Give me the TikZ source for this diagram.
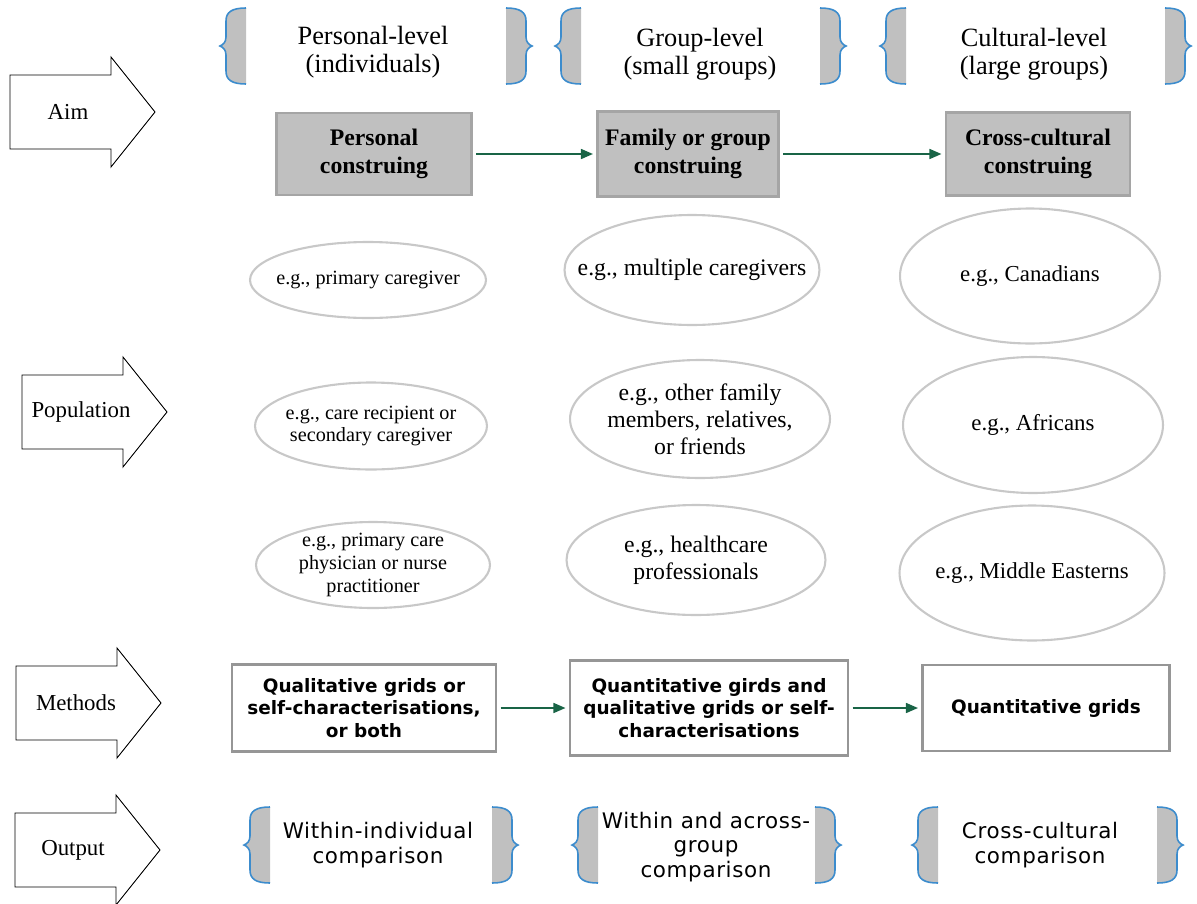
\documentclass[tikz,border=0pt]{standalone}
\usepackage{fontspec}
\setmainfont{Liberation Serif}
\setsansfont{DejaVu Sans}
\newfontfamily\outfont[LetterSpace=3]{DejaVu Sans}
\usetikzlibrary{shapes.geometric,arrows.meta}
\definecolor{boxgray}{RGB}{192,192,192}
\definecolor{boxedge}{RGB}{165,165,165}
\definecolor{ellgray}{RGB}{200,200,200}
\definecolor{methedge}{RGB}{150,150,150}
\definecolor{braceblue}{RGB}{60,140,205}
\definecolor{flowgreen}{RGB}{25,100,70}

\begin{document}
\begin{tikzpicture}[x=0.02cm,y=-0.02cm,
  lbrace/.pic={
    \fill[boxgray] (0,-38) .. controls (-14,-38) and (-20,-34) .. (-20,-25) -- (-20,-9) .. controls (-20,-4) and (-23,-1) .. (-26,0) .. controls (-23,1) and (-20,4) .. (-20,9) -- (-20,25) .. controls (-20,34) and (-14,38) .. (0,38) -- cycle;
    \draw[braceblue,line width=0.9pt] (0,-38) .. controls (-14,-38) and (-20,-34) .. (-20,-25) -- (-20,-9) .. controls (-20,-4) and (-23,-1) .. (-26,0) .. controls (-23,1) and (-20,4) .. (-20,9) -- (-20,25) .. controls (-20,34) and (-14,38) .. (0,38);
  },
  sidearrow/.pic={
    \draw[line width=0.5pt,fill=white] (0,-37) -- (101,-37) -- (101,-55) -- (145,0) -- (101,55) -- (101,37) -- (0,37) -- cycle;
  },
  sidelabel/.style={font=\fontsize{13}{15}\selectfont},
  hdr/.style={align=center,font=\fontsize{15}{16}\selectfont},
  aimbox/.style={draw=boxedge,fill=boxgray,line width=1.2pt,align=center,inner sep=0pt,font=\fontsize{13.5}{16}\selectfont\bfseries},
  egell/.style={ellipse,draw=ellgray,line width=1.2pt,inner sep=-60pt,align=center},
  egp/.style={egell,font=\fontsize{11.5}{13}\selectfont},
  egg/.style={egell,font=\fontsize{13.5}{15.3}\selectfont},
  egc/.style={egell,font=\fontsize{13}{15}\selectfont},
  methbox/.style={draw=methedge,line width=1.2pt,align=center,inner sep=0pt,font=\fontsize{10.5}{13}\selectfont\sffamily\bfseries},
  outtxt/.style={align=center,font=\fontsize{12.2}{13.8}\selectfont\outfont},
  flowarr/.style={flowgreen,line width=0.9pt,-{Triangle[length=2.4mm,width=2mm]},shorten <=2pt,shorten >=2pt}]
\useasboundingbox (0,0) rectangle (1197,903);

\pic at (10,112) {sidearrow};
\pic at (22,412) {sidearrow};
\pic at (16,703) {sidearrow};
\pic at (15,850) {sidearrow};
\node[sidelabel] (aim) at (68,112) {Aim};
\node[sidelabel] (population) at (81,412) {Population};
\node[sidelabel] (methods) at (76,703) {Methods};
\node[sidelabel] (output) at (73,850) {Output};

\pic at (246,46) {lbrace};
\pic[xscale=-1] at (506,46) {lbrace};
\pic at (581,46) {lbrace};
\pic[xscale=-1] at (820,46) {lbrace};
\pic at (906,46) {lbrace};
\pic[xscale=-1] at (1165,46) {lbrace};
\node[hdr] (lvlpersonal) at (373,52) {Personal-level\\(individuals)};
\node[hdr] (lvlgroup) at (700,54) {Group-level\\(small groups)};
\node[hdr] (lvlcultural) at (1034,54) {Cultural-level\\(large groups)};

\node[aimbox,minimum width=3.9cm,minimum height=1.64cm] (aimpersonal) at (374,154) {Personal\\construing};
\node[aimbox,minimum width=3.62cm,minimum height=1.7cm] (aimgroup) at (688,154) {Family or group\\construing};
\node[aimbox,minimum width=3.68cm,minimum height=1.66cm] (aimcultural) at (1038,154) {Cross-cultural\\construing};
\draw[flowarr] (aimpersonal) -- (aimgroup);
\draw[flowarr] (aimgroup) -- (aimcultural);

\node[egp,minimum width=4.72cm,minimum height=1.52cm] (popP1) at (368,280) {e.g., primary caregiver};
\node[egg,minimum width=5.1cm,minimum height=2.2cm] (popG1) at (692,270) {e.g., multiple caregivers};
\node[egc,minimum width=5.2cm,minimum height=2.7cm] (popC1) at (1030,276) {e.g., Canadians};
\node[egp,minimum width=4.64cm,minimum height=1.74cm] (popP2) at (371,426) {e.g., care recipient or\\secondary caregiver};
\node[egg,minimum width=5.2cm,minimum height=2.36cm] (popG2) at (700,419) {e.g., other family\\members, relatives,\\or friends};
\node[egc,minimum width=5.2cm,minimum height=2.72cm] (popC2) at (1033,425) {e.g., Africans};
\node[egp,minimum width=4.68cm,minimum height=1.72cm] (popP3) at (373,565) {e.g., primary care\\physician or nurse\\practitioner};
\node[egg,minimum width=5.18cm,minimum height=2.2cm] (popG3) at (696,560) {e.g., healthcare\\professionals};
\node[egc,minimum width=5.3cm,minimum height=2.7cm] (popC3) at (1032,573) {e.g., Middle Easterns};

\node[methbox,minimum width=5.28cm,minimum height=1.74cm] (methpersonal) at (364,708) {Qualitative grids or\\self-characterisations,\\or both};
\node[methbox,minimum width=5.56cm,minimum height=1.9cm] (methgroup) at (709,708) {Quantitative girds and\\qualitative grids or self-\\characterisations};
\node[methbox,minimum width=4.94cm,minimum height=1.72cm] (methcultural) at (1046,708) {Quantitative grids};
\draw[flowarr] (methpersonal) -- (methgroup);
\draw[flowarr] (methgroup) -- (methcultural);

\pic at (270,845) {lbrace};
\pic[xscale=-1] at (492,845) {lbrace};
\pic at (598,845) {lbrace};
\pic[xscale=-1] at (815,845) {lbrace};
\pic at (938,845) {lbrace};
\pic[xscale=-1] at (1157,845) {lbrace};
\node[outtxt] (outpersonal) at (378,845) {Within-individual\\comparison};
\node[outtxt] (outgroup) at (706,847) {Within and across-\\group\\comparison};
\node[outtxt] (outcultural) at (1040,845) {Cross-cultural\\comparison};
\end{tikzpicture}
\end{document}
